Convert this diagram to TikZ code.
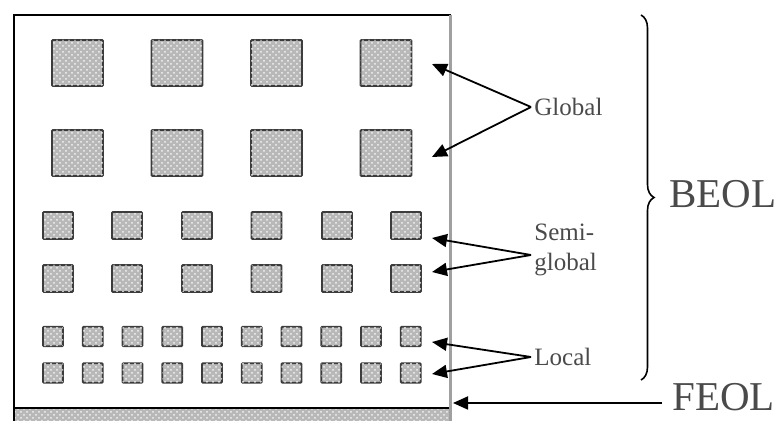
\documentclass[tikz,border=0pt]{standalone}
\usepackage{fontspec}
\setmainfont{Liberation Serif}
\usetikzlibrary{positioning, arrows.meta, decorations.pathreplacing, patterns}
\definecolor{txtgray}{HTML}{4A4A4A}
\definecolor{padfill}{HTML}{B8B8B8}
\definecolor{padline}{HTML}{3C3C3C}
\definecolor{edgegray}{HTML}{A0A0A0}
\tikzset{
  pad/.style={draw=padline, fill=padfill, line width=0.9pt, inner sep=0pt, rounded corners=0.5pt,
    postaction={pattern=crosshatch dots, pattern color=white!90!gray}},
  lbl/.style={text=txtgray, font=\fontsize{12.5}{15}\selectfont, inner sep=1.5pt, anchor=west, align=left},
  big/.style={text=txtgray, font=\fontsize{20.5}{24}\selectfont, inner sep=0pt, anchor=west},
  ptr/.style={-{Triangle[length=7.5pt,width=6.5pt]}, line width=0.9pt}
}

\begin{document}
\begin{tikzpicture}[x=0.5pt, y=-0.5pt]
  \useasboundingbox (0,0) rectangle (778,421);

  % substrate strip and frame
  \fill[padfill, postaction={pattern=crosshatch dots, pattern color=white!90!gray}] (14,408) rectangle (451,421);
  \draw[line width=1pt] (451,15) -- (14,15) -- (14,421);
  \draw[line width=1pt] (14,408) -- (450,408);
  \draw[edgegray, line width=1.5pt] (450,15) -- (450,421);

  % global wires
  \foreach \x [count=\i] in {77.5,177,276.5,386}
    \foreach \y [count=\j] in {63,153}
      \node[pad, minimum width=25.5pt, minimum height=23pt] (g\j\i) at (\x,\y) {};

  % semi-global wires
  \foreach \x [count=\i] in {58,127,197,266.5,337,406}
    \foreach \y [count=\j] in {225.5,278.5}
      \node[pad, minimum width=15pt, minimum height=13.5pt] (s\j\i) at (\x,\y) {};

  % local wires
  \foreach \i in {0,...,9}
    \foreach \y [count=\j] in {336.5,373}
      \node[pad, minimum width=10pt, minimum height=9.75pt] (l\j\i) at (53+39.75*\i,\y) {};

  % labels and pointers
  \node[lbl] (glob) at (531,107) {Global};
  \node[lbl] (semi) at (531,250) {Semi-\\global};
  \node[lbl] (loc) at (531,357) {Local};

  \coordinate (gt1) at (432,64);
  \coordinate (gt2) at (432,157);
  \coordinate (st1) at (432,238);
  \coordinate (st2) at (432,272);
  \coordinate (lt1) at (432,342);
  \coordinate (lt2) at (432,374);
  \coordinate (ft) at (453,403);

  \draw[ptr] (glob.west) -- (gt1);
  \draw[ptr] (glob.west) -- (gt2);
  \draw[ptr] ([yshift=-2.5pt]semi.west) -- (st1);
  \draw[ptr] ([yshift=-2.5pt]semi.west) -- (st2);
  \draw[ptr] (loc.west) -- (lt1);
  \draw[ptr] (loc.west) -- (lt2);

  % BEOL brace and FEOL pointer
  \draw[decorate, decoration={brace, amplitude=6.5pt}, line width=0.8pt] (641,15) -- (641,380);
  \node[big] (beol) at (669,194) {BEOL};
  \node[big, inner xsep=5pt] (feol) at (662,397) {FEOL};
  \draw[ptr] (feol.west |- ft) -- (ft);
\end{tikzpicture}
\end{document}
